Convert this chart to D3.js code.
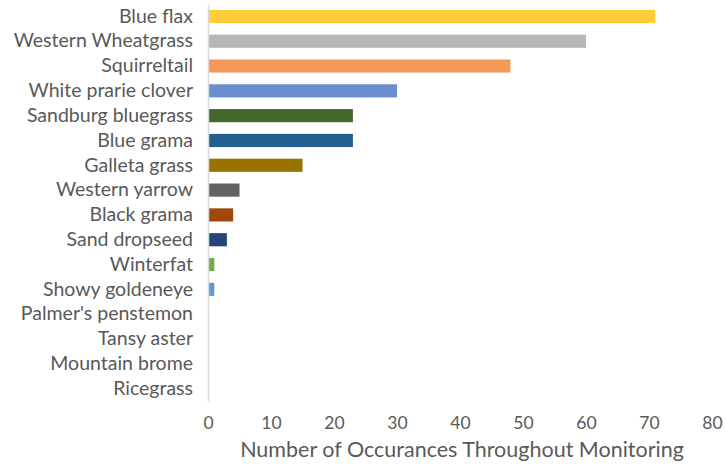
<!DOCTYPE html>
<html>
<head>
<meta charset="utf-8">
<script src="https://cdn.jsdelivr.net/npm/d3@7"></script>
<style>
  body { margin: 0; background: #fff; }
  svg { display: block; }
  .lbl { font-family: Lato, "Open Sans", sans-serif; fill: #595959; }
</style>
</head>
<body>
<div id="chart"></div>
<script>
const species = [
  'Blue flax', 'Western Wheatgrass', 'Squirreltail', 'White prarie clover',
  'Sandburg bluegrass', 'Blue grama', 'Galleta grass', 'Western yarrow',
  'Black grama', 'Sand dropseed', 'Winterfat', 'Showy goldeneye',
  "Palmer's penstemon", 'Tansy aster', 'Mountain brome', 'Ricegrass'
];
const occurrences = [71, 60, 48, 30, 23, 23, 15, 5, 4, 3, 1, 1, 0, 0, 0, 0];
const xTicks = [0, 10, 20, 30, 40, 50, 60, 70, 80];
const barColors = [
  '#ffcd37', '#b6b6b6', '#f2995a', '#6a8fd0', '#43682b', '#255e91',
  '#997300', '#636363', '#9e480e', '#264478', '#70ad47', '#5b9bd5',
  '#999999', '#999999', '#999999', '#999999'
];

const width = 725, height = 464;
const margin = { top: 4, right: 13, bottom: 63, left: 208 };
const w = width - margin.left - margin.right;
const h = height - margin.top - margin.bottom;

const data = species.map((name, i) => ({ name, value: occurrences[i], color: barColors[i] }));

const svg = d3.select('#chart').append('svg')
  .attr('width', width)
  .attr('height', height);

const g = svg.append('g')
  .attr('transform', `translate(${margin.left},${margin.top})`);

const x = d3.scaleLinear()
  .domain([0, 80])
  .range([0, w]);
const y = d3.scaleBand()
  .domain(species)
  .range([0, h])
  .paddingInner(0.47)
  .paddingOuter(0.235);

// bars
g.selectAll('.bar')
  .data(data)
  .join('rect')
  .attr('class', 'bar')
  .attr('x', x(0))
  .attr('y', d => y(d.name))
  .attr('width', d => x(d.value) - x(0))
  .attr('height', y.bandwidth())
  .attr('fill', d => d.color);

// category axis
const yAxis = g.append('g')
  .call(d3.axisLeft(y).tickSize(0).tickPadding(15));
yAxis.select('.domain')
  .attr('stroke', '#d9d9d9')
  .attr('stroke-width', 1.5);
yAxis.selectAll('text')
  .attr('class', 'lbl')
  .style('font-size', '19.5px');

// value axis (labels only)
const xAxis = g.append('g')
  .attr('transform', `translate(0,${h})`)
  .call(d3.axisBottom(x).tickValues(xTicks).tickSize(0).tickPadding(16));
xAxis.select('.domain').remove();
xAxis.selectAll('text')
  .attr('class', 'lbl')
  .style('font-size', '17.5px');

svg.append('text')
  .attr('class', 'lbl')
  .attr('x', 462)
  .attr('y', 457)
  .attr('text-anchor', 'middle')
  .style('font-size', '21.5px')
  .text('Number of Occurances Throughout Monitoring');
</script>
</body>
</html>
